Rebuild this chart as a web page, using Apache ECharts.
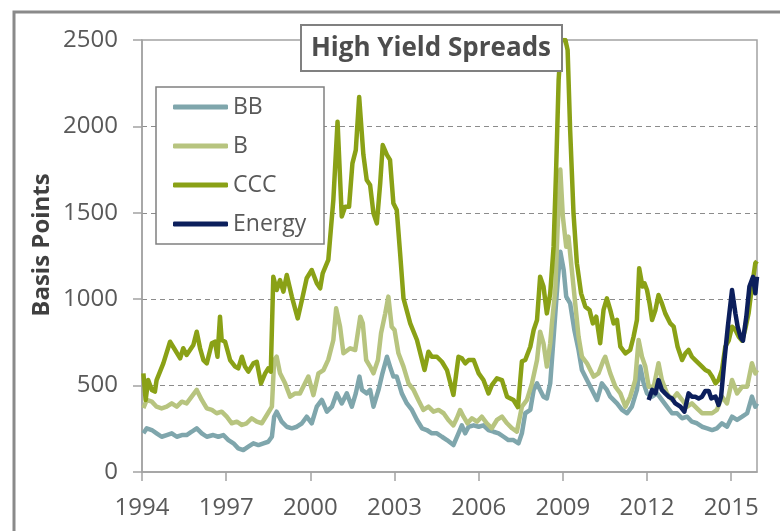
<!DOCTYPE html>
<html>
<head>
<meta charset="utf-8">
<title>High Yield Spreads</title>
<script src="https://cdn.jsdelivr.net/npm/echarts@6/dist/echarts.min.js"></script>
<style>
  html, body { margin: 0; padding: 0; background: #fff; }
  #spreadChart { width: 780px; height: 531px; }
</style>
</head>
<body>
<div id="spreadChart"></div>
<script>
// x ticks shown every 3 years
const yearTicks = [1994, 1997, 2000, 2003, 2006, 2009, 2012, 2015]
const seriesNames = ['BB', 'B', 'CCC', 'Energy']

// BB spread (bp)
const bbDates = [1994.05, 1994.17, 1994.35, 1994.52, 1994.7, 1994.88, 1995.06, 1995.24, 1995.42, 1995.59, 1995.77, 1995.95,
  1996.13, 1996.31, 1996.54, 1996.72, 1996.9, 1997.08, 1997.26, 1997.43, 1997.61, 1997.79, 1997.97, 1998.15, 1998.33,
  1998.5, 1998.63, 1998.71, 1998.8, 1998.98, 1999.16, 1999.34, 1999.52, 1999.7, 1999.87, 2000.05, 2000.23, 2000.41,
  2000.59, 2000.77, 2000.94, 2001.12, 2001.3, 2001.48, 2001.62, 2001.75, 2001.84, 2002.01, 2002.13, 2002.25, 2002.43,
  2002.57, 2002.73, 2002.84, 2002.96, 2003.08, 2003.26, 2003.44, 2003.62, 2003.8, 2003.98, 2004.15, 2004.33, 2004.51,
  2004.69, 2004.87, 2005.1, 2005.28, 2005.4, 2005.52, 2005.64, 2005.82, 2006.0, 2006.17, 2006.35, 2006.53, 2006.71,
  2006.89, 2007.06, 2007.24, 2007.42, 2007.54, 2007.66, 2007.84, 2007.96, 2008.08, 2008.19, 2008.31, 2008.43, 2008.55,
  2008.69, 2008.81, 2008.91, 2009.03, 2009.12, 2009.26, 2009.41, 2009.56, 2009.68, 2009.86, 2010.04, 2010.22, 2010.39,
  2010.57, 2010.69, 2010.93, 2011.11, 2011.29, 2011.46, 2011.64, 2011.76, 2011.88, 2012.0, 2012.18, 2012.36, 2012.53,
  2012.71, 2012.89, 2013.07, 2013.25, 2013.43, 2013.6, 2013.78, 2013.96, 2014.14, 2014.32, 2014.49, 2014.67, 2014.85,
  2015.03, 2015.21, 2015.39, 2015.57, 2015.74, 2015.86, 2015.92]
const bbSpread = [224, 253, 243, 224, 204, 214, 224, 204, 214, 214, 233, 253,
  224, 204, 214, 204, 214, 185, 166, 137, 127, 147, 166, 156, 166,
  175, 204, 320, 349, 291, 262, 253, 262, 282, 320, 282, 378, 417,
  349, 378, 455, 397, 455, 378, 455, 552, 475, 455, 475, 378, 475,
  571, 667, 610, 552, 552, 455, 397, 359, 301, 253, 243, 224, 224,
  204, 185, 156, 224, 270, 224, 262, 270, 262, 270, 243, 233, 224,
  204, 185, 185, 166, 224, 340, 359, 475, 513, 475, 436, 426, 513,
  822, 1092, 1275, 1169, 1015, 976, 822, 706, 590, 532, 475, 417, 513,
  475, 436, 397, 359, 340, 378, 475, 610, 513, 455, 436, 455, 417,
  378, 340, 340, 311, 320, 291, 282, 262, 253, 243, 253, 282, 262,
  320, 301, 320, 340, 436, 378, 397]

// B spread (bp)
const bDates = [1994.05, 1994.17, 1994.35, 1994.52, 1994.7, 1994.88, 1995.06, 1995.24, 1995.42, 1995.59, 1995.77, 1995.95,
  1996.13, 1996.31, 1996.49, 1996.66, 1996.84, 1997.02, 1997.2, 1997.38, 1997.56, 1997.73, 1997.91, 1998.09, 1998.27,
  1998.45, 1998.63, 1998.71, 1998.8, 1998.92, 1999.1, 1999.28, 1999.46, 1999.63, 1999.81, 1999.93, 2000.11, 2000.29,
  2000.47, 2000.64, 2000.82, 2000.92, 2001.06, 2001.18, 2001.42, 2001.6, 2001.78, 2001.87, 2001.99, 2002.13, 2002.25,
  2002.41, 2002.52, 2002.67, 2002.78, 2002.9, 2003.0, 2003.14, 2003.32, 2003.5, 2003.68, 2003.85, 2004.03, 2004.21,
  2004.39, 2004.57, 2004.75, 2004.92, 2005.1, 2005.22, 2005.34, 2005.46, 2005.6, 2005.76, 2005.94, 2006.11, 2006.29,
  2006.47, 2006.65, 2006.83, 2007.01, 2007.19, 2007.36, 2007.54, 2007.72, 2007.9, 2008.08, 2008.19, 2008.31, 2008.43,
  2008.55, 2008.61, 2008.73, 2008.81, 2008.91, 2009.0, 2009.12, 2009.2, 2009.32, 2009.44, 2009.56, 2009.68, 2009.86,
  2009.98, 2010.1, 2010.27, 2010.45, 2010.51, 2010.69, 2010.87, 2011.05, 2011.23, 2011.4, 2011.58, 2011.7, 2011.82,
  2011.94, 2012.06, 2012.24, 2012.41, 2012.53, 2012.71, 2012.89, 2013.07, 2013.25, 2013.43, 2013.6, 2013.78, 2013.96,
  2014.14, 2014.32, 2014.49, 2014.67, 2014.85, 2015.03, 2015.21, 2015.39, 2015.57, 2015.74, 2015.86, 2015.92]
const bSpread = [370, 417, 407, 378, 368, 378, 397, 378, 407, 397, 436, 475,
  417, 368, 359, 340, 349, 320, 282, 291, 272, 282, 311, 291, 282,
  330, 378, 648, 667, 571, 513, 436, 455, 455, 513, 552, 445, 571,
  590, 650, 764, 947, 841, 687, 716, 706, 899, 860, 648, 610, 571,
  648, 803, 918, 1015, 841, 822, 687, 610, 513, 475, 417, 359, 378,
  349, 359, 340, 301, 270, 311, 359, 320, 282, 311, 291, 320, 282,
  253, 301, 320, 282, 253, 233, 378, 417, 513, 648, 812, 745, 610,
  745, 860, 1053, 1400, 1750, 1478, 1304, 1362, 1169, 976, 783, 667, 629,
  590, 552, 571, 648, 667, 571, 494, 455, 378, 436, 532, 764, 667,
  610, 494, 494, 629, 532, 455, 417, 455, 417, 378, 397, 368, 340,
  340, 340, 359, 436, 397, 532, 455, 494, 494, 629, 571, 590]

// CCC spread (bp), the 2008-09 peak is cut at the top of the chart
const cccDates = [1994.05, 1994.13, 1994.22, 1994.35, 1994.46, 1994.52, 1994.76, 1995.0, 1995.18, 1995.36, 1995.47, 1995.59,
  1995.71, 1995.83, 1995.95, 1996.07, 1996.19, 1996.31, 1996.49, 1996.6, 1996.69, 1996.78, 1996.84, 1996.96, 1997.14,
  1997.32, 1997.43, 1997.56, 1997.67, 1997.79, 1997.97, 1998.09, 1998.24, 1998.39, 1998.5, 1998.59, 1998.68, 1998.8,
  1998.92, 1999.04, 1999.16, 1999.34, 1999.55, 1999.7, 1999.87, 2000.05, 2000.23, 2000.35, 2000.44, 2000.64, 2000.7,
  2000.82, 2000.97, 2001.12, 2001.24, 2001.38, 2001.5, 2001.62, 2001.74, 2001.89, 2002.01, 2002.13, 2002.25, 2002.37,
  2002.49, 2002.58, 2002.73, 2002.84, 2002.96, 2003.08, 2003.2, 2003.32, 2003.56, 2003.8, 2004.07, 2004.21, 2004.33,
  2004.51, 2004.69, 2004.87, 2005.1, 2005.28, 2005.4, 2005.52, 2005.64, 2005.82, 2006.0, 2006.17, 2006.35, 2006.47,
  2006.65, 2006.83, 2007.01, 2007.24, 2007.4, 2007.54, 2007.66, 2007.84, 2007.96, 2008.08, 2008.19, 2008.31, 2008.43,
  2008.55, 2008.67, 2008.76, 2008.85, 2008.94, 2009.09, 2009.17, 2009.26, 2009.38, 2009.5, 2009.65, 2009.8, 2009.95,
  2010.07, 2010.19, 2010.33, 2010.45, 2010.57, 2010.69, 2010.81, 2010.93, 2011.05, 2011.23, 2011.4, 2011.52, 2011.64,
  2011.72, 2011.84, 2011.91, 2012.0, 2012.09, 2012.18, 2012.3, 2012.41, 2012.53, 2012.65, 2012.83, 2012.95, 2013.09,
  2013.25, 2013.37, 2013.48, 2013.6, 2013.72, 2013.84, 2013.96, 2014.08, 2014.2, 2014.32, 2014.44, 2014.55, 2014.67,
  2014.79, 2014.91, 2015.03, 2015.15, 2015.27, 2015.39, 2015.5, 2015.62, 2015.74, 2015.86, 2015.92]
const cccSpread = [571, 417, 532, 475, 465, 532, 629, 754, 706, 658, 716, 677,
  706, 735, 812, 716, 648, 629, 745, 754, 667, 899, 764, 754, 648,
  610, 600, 667, 610, 581, 629, 638, 513, 571, 600, 581, 1130, 1053,
  1111, 1044, 1140, 1015, 889, 995, 1121, 1169, 1092, 1063, 1150, 1227, 1343,
  1574, 2027, 1478, 1535, 1535, 1786, 1863, 2170, 1837, 1690, 1661, 1497, 1439,
  1670, 1892, 1835, 1806, 1555, 1516, 1265, 1005, 860, 764, 590, 696, 667,
  667, 638, 590, 446, 667, 658, 629, 648, 648, 571, 532, 455, 503,
  542, 532, 436, 417, 375, 640, 648, 725, 822, 880, 1130, 1073, 918,
  1034, 1304, 1748, 2269, 2500, 2500, 2442, 1979, 1497, 1208, 1034, 957, 938,
  860, 899, 745, 938, 1005, 938, 860, 880, 725, 687, 706, 783, 880,
  1179, 1073, 1092, 1053, 976, 880, 938, 1024, 976, 918, 860, 841, 725,
  648, 687, 706, 667, 648, 629, 610, 590, 581, 552, 513, 532, 590,
  725, 760, 841, 822, 783, 760, 826, 918, 1073, 1208, 1220]

// Energy spread (bp), from 2012
const energyDates = [2012.06, 2012.18, 2012.3, 2012.41, 2012.53, 2012.65, 2012.77, 2012.89, 2013.01, 2013.19, 2013.33,
  2013.4, 2013.48, 2013.6, 2013.72, 2013.84, 2013.96, 2014.08, 2014.2, 2014.29, 2014.44, 2014.55, 2014.64, 2014.76,
  2014.88, 2015.03, 2015.15, 2015.23, 2015.34, 2015.42, 2015.54, 2015.65, 2015.78, 2015.86, 2015.92]
const energySpread = [417, 475, 455, 532, 475, 455, 436, 426, 397, 378, 349,
  397, 455, 436, 436, 426, 436, 469, 469, 426, 436, 388, 436, 648,
  841, 1053, 918, 841, 777, 760, 899, 1073, 1130, 1034, 1130]

const lineColors = ['#7fa6ac', '#b7c47f', '#8aa116', '#0c1f5c']

let chartInstance = null

function pairUp(xs, ys) {
  return xs.map((x, i) => [x, ys[i]])
}

function initChart() {
  chartInstance = echarts.init(document.getElementById('spreadChart'))
}

function updateChart() {
  const seriesData = [
    pairUp(bbDates, bbSpread),
    pairUp(bDates, bSpread),
    pairUp(cccDates, cccSpread),
    pairUp(energyDates, energySpread)
  ]
  const option = {
    animation: false,
    textStyle: { fontFamily: 'Open Sans' },
    grid: {
      left: 142,
      top: 40,
      right: 23,
      bottom: 59,
      show: true,
      borderColor: '#a3a3a3',
      borderWidth: 1.5
    },
    legend: {
      orient: 'vertical',
      left: 173,
      top: 95,
      padding: 0,
      itemGap: 15,
      itemWidth: 55,
      itemHeight: 5,
      icon: 'roundRect',
      data: seriesNames,
      textStyle: {
        fontFamily: 'Open Sans',
        fontSize: 23,
        lineHeight: 24,
        color: '#595959'
      }
    },
    xAxis: {
      type: 'value',
      min: 1994,
      max: 2015.92,
      axisLine: { lineStyle: { color: '#a3a3a3', width: 1.5 } },
      axisTick: {
        length: 9,
        customValues: yearTicks,
        lineStyle: { color: '#a3a3a3', width: 1.5 }
      },
      axisLabel: {
        customValues: yearTicks,
        margin: 24,
        fontSize: 24,
        color: '#595959',
        formatter: v => String(v)
      },
      splitLine: { show: false }
    },
    yAxis: {
      type: 'value',
      min: 0,
      max: 2500,
      interval: 500,
      axisLine: { show: true, lineStyle: { color: '#a3a3a3', width: 1.5 } },
      axisTick: { show: true, length: 9, lineStyle: { color: '#a3a3a3', width: 1.5 } },
      axisLabel: {
        margin: 24,
        fontSize: 24,
        color: '#595959',
        formatter: v => String(v)
      },
      splitLine: {
        show: true,
        showMinLine: false,
        showMaxLine: false,
        lineStyle: { color: '#8c8c8c', type: [5, 4], width: 1 }
      }
    },
    series: seriesNames.map((name, i) => ({
      name: name,
      type: 'line',
      data: seriesData[i],
      showSymbol: false,
      symbol: 'none',
      color: lineColors[i],
      lineStyle: { width: 4.5, color: lineColors[i], join: 'round' },
      z: 2 + i
    })),
    graphic: [
      {
        type: 'rect',
        z: 0,
        silent: true,
        shape: { x: 14, y: 12, width: 900, height: 700 },
        style: { fill: 'none', stroke: '#8a8a8a', lineWidth: 3 }
      },
      {
        type: 'rect',
        z: 3,
        silent: true,
        shape: { x: 156, y: 87, width: 168, height: 157 },
        style: { fill: '#fff', stroke: '#808080', lineWidth: 1.5 }
      },
      {
        type: 'rect',
        z: 20,
        silent: true,
        shape: { x: 301, y: 25, width: 261, height: 46 },
        style: { fill: '#fff', stroke: '#808080', lineWidth: 2 }
      },
      {
        type: 'text',
        z: 21,
        silent: true,
        x: 431,
        y: 49,
        style: {
          text: 'High Yield Spreads',
          font: 'bold 26px "Open Sans"',
          fill: '#4d4d4d',
          textAlign: 'center',
          textVerticalAlign: 'middle'
        }
      },
      {
        type: 'text',
        z: 21,
        silent: true,
        x: 42,
        y: 245,
        rotation: Math.PI / 2,
        style: {
          text: 'Basis Points',
          font: 'bold 24px "Open Sans"',
          fill: '#404040',
          textAlign: 'center',
          textVerticalAlign: 'middle'
        }
      }
    ]
  }
  chartInstance.setOption(option)
  window.onresize = function () {
    chartInstance.resize()
  }
}

initChart()
updateChart()
</script>
</body>
</html>
